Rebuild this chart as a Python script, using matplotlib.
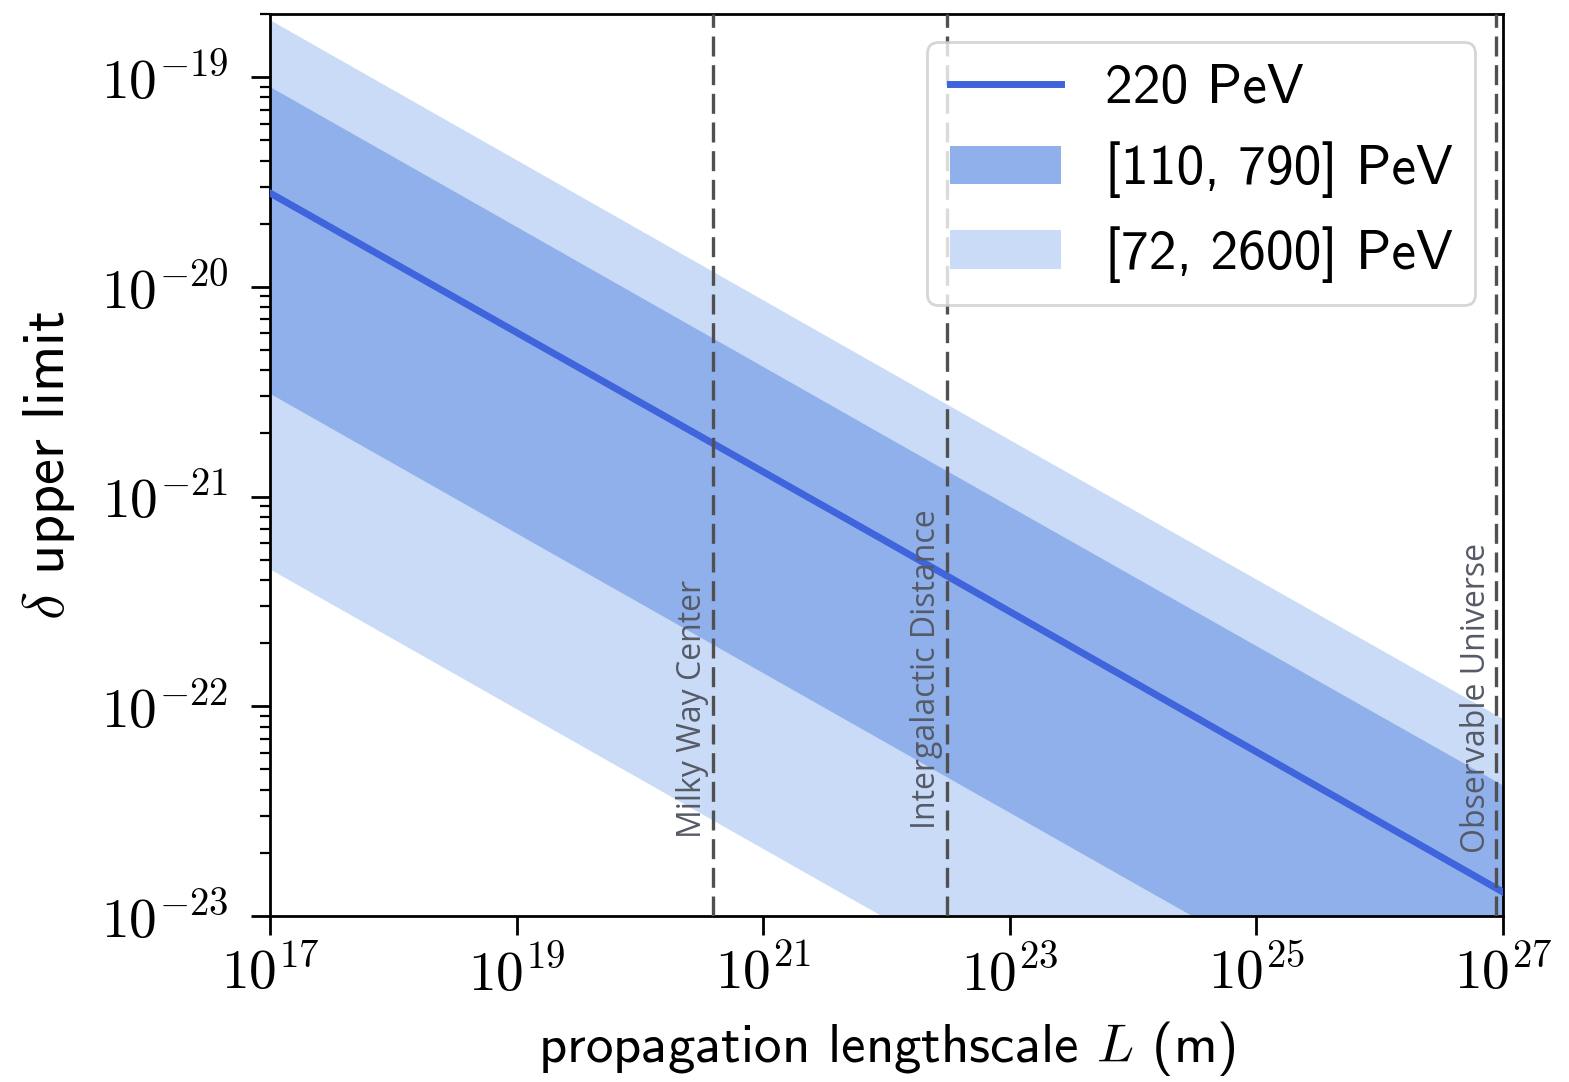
import matplotlib
matplotlib.use("Agg")
import matplotlib.pyplot as plt
import numpy as np
from matplotlib.ticker import FixedLocator, NullLocator, NullFormatter, FuncFormatter

# ---- data ----
L_m = [1e17, 1e22, 1e27]                       # propagation lengthscale (m)
delta_220 = [2.8e-20, 6.1e-22, 1.3e-23]        # 220 PeV
delta_110 = [9.0e-20, 1.93e-21, 4.2e-23]       # 110 PeV (upper edge, dark band)
delta_790 = [3.1e-21, 6.7e-23, 1.45e-24]       # 790 PeV (lower edge, dark band)
delta_72 = [1.87e-19, 4.0e-21, 8.7e-23]        # 72 PeV (upper edge, light band)
delta_2600 = [4.5e-22, 9.7e-24, 2.1e-25]       # 2600 PeV (lower edge, light band)

ref_names = ["Milky Way Center", "Intergalactic Distance", "Observable Universe"]
ref_L = [3.9e20, 3.07e22, 8.8e26]

x_ticks = [1e17, 1e19, 1e21, 1e23, 1e25, 1e27]
y_ticks = [1e-23, 1e-22, 1e-21, 1e-20, 1e-19]
legend_labels = ["220 PeV", "[110, 790] PeV", "[72, 2600] PeV"]

plt.rcParams["mathtext.fontset"] = "cm"
plt.rcParams["axes.linewidth"] = 2.0
SANS = "cmss10"

fig = plt.figure(figsize=(15.69, 10.82), dpi=100)
ax = fig.add_axes([0.1721, 0.1534, 0.958 - 0.1721, 0.9871 - 0.1534])

c_line = "#3f64dc"
c_dark = "#90b0ec"
c_light = "#c9dbf6"

h_light = ax.fill_between(L_m, delta_2600, delta_72, color=c_light, lw=0, zorder=1)
h_dark = ax.fill_between(L_m, delta_790, delta_110, color=c_dark, lw=0, zorder=2)
h_line, = ax.plot(L_m, delta_220, color=c_line, lw=5, zorder=3)

text_y = [0.086, 0.097, 0.07]
for name, lv, ty in zip(ref_names, ref_L, text_y):
    ax.axvline(lv, color="#505050", lw=2.4, dashes=(6.0, 2.6), zorder=4)
    ax.text(lv / 1.07, ty, name, rotation=90, ha="right", va="bottom",
            transform=ax.get_xaxis_transform(), color="#555a66",
            fontsize=23, family="Open Sans", zorder=5)

ax.set_xscale("log")
ax.set_yscale("log")
ax.set_xlim(1e17, 1e27)
ax.set_ylim(1e-23, 2e-19)

fmt = FuncFormatter(lambda v, p: r"$10^{%d}$" % int(round(np.log10(v))))
ax.xaxis.set_major_locator(FixedLocator(x_ticks))
ax.xaxis.set_major_formatter(fmt)
ax.xaxis.set_minor_locator(NullLocator())
ax.yaxis.set_major_locator(FixedLocator(y_ticks))
ax.yaxis.set_major_formatter(fmt)
minor_y = [m * 10.0 ** e for e in range(-24, -18) for m in range(2, 10)]
ax.yaxis.set_minor_locator(FixedLocator(minor_y))
ax.yaxis.set_minor_formatter(NullFormatter())

ax.tick_params(which="major", length=14, width=2, labelsize=40)
ax.tick_params(axis="x", which="major", pad=8)
ax.tick_params(axis="y", which="major", pad=16)
ax.tick_params(which="minor", length=7, width=1.6)

ax.set_xlabel(r"propagation lengthscale $L$ (m)", fontsize=39.5, family=SANS, labelpad=12)
ax.set_ylabel(r"$\delta$ upper limit", fontsize=42, family=SANS, labelpad=17)

leg = ax.legend([h_line, h_dark, h_light], legend_labels,
                loc="upper right", prop={"family": SANS, "size": 40},
                framealpha=0.8, edgecolor="#cccccc", fancybox=True,
                borderaxespad=0.5)
leg.get_frame().set_linewidth(2)

fig.savefig("out.png", dpi=100)
